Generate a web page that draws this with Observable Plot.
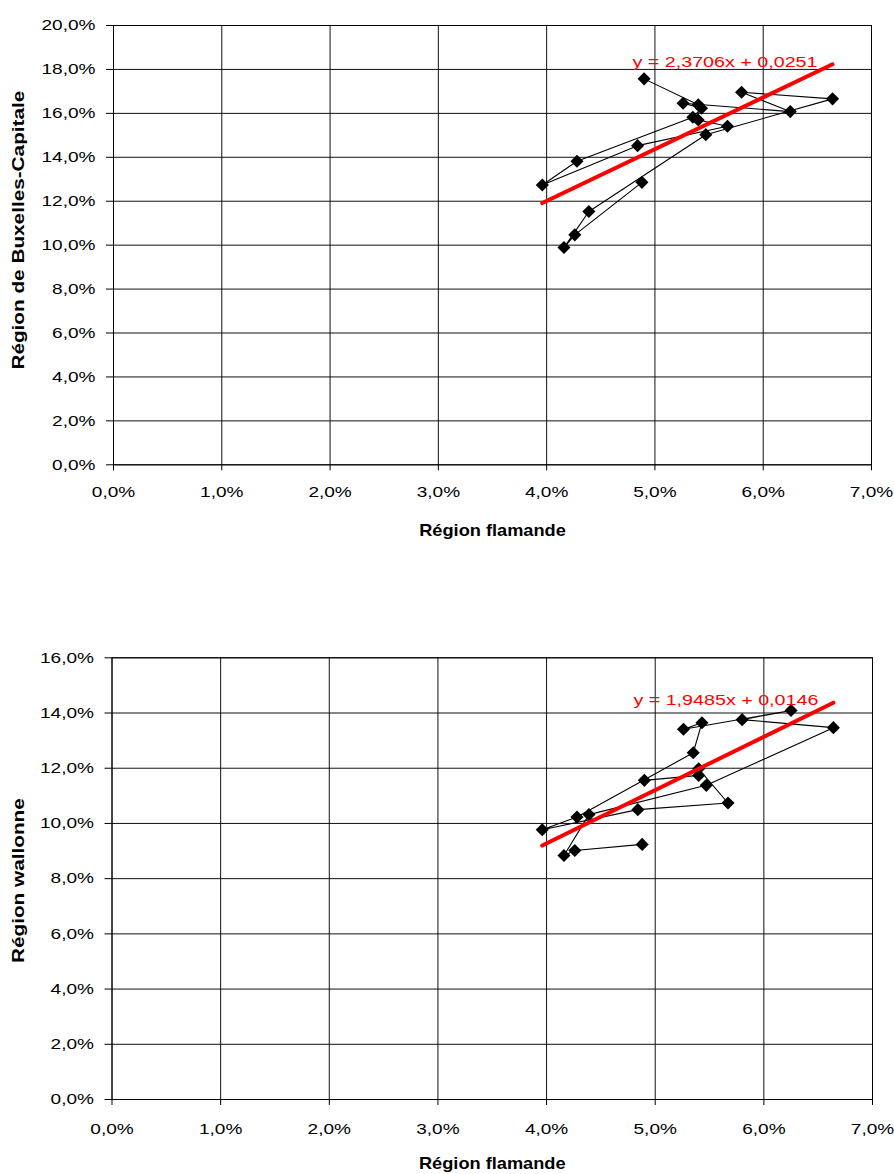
<!DOCTYPE html>
<html>
<head>
<meta charset="utf-8">
<script src="https://cdn.jsdelivr.net/npm/d3@7"></script>
<script src="https://cdn.jsdelivr.net/npm/@observablehq/plot@0.6"></script>
<style>
  html, body { margin: 0; padding: 0; background: #fff; }
  body { width: 894px; height: 1174px; overflow: hidden; }
  #charts svg { display: block; }
</style>
</head>
<body>
<div id="charts"></div>
<script>
// Observations in chronological (connection) order
const flandre   = [0.0488, 0.0426, 0.0416, 0.0439, 0.0547, 0.0664, 0.0580, 0.0625, 0.0526, 0.0543, 0.0535, 0.0428, 0.0396, 0.0484, 0.0567, 0.0540, 0.0540, 0.0490];
const bruxelles = [0.1286, 0.1047, 0.0989, 0.1153, 0.1503, 0.1666, 0.1696, 0.1608, 0.1646, 0.1623, 0.1582, 0.1382, 0.1274, 0.1453, 0.1541, 0.1570, 0.1639, 0.1757];
const wallonie  = [0.0924, 0.0902, 0.0884, 0.1032, 0.1138, 0.1347, 0.1376, 0.1409, 0.1341, 0.1365, 0.1256, 0.1023, 0.0977, 0.1050, 0.1074, 0.1198, 0.1174, 0.1156];

const xTicks = [0, 0.01, 0.02, 0.03, 0.04, 0.05, 0.06, 0.07];
const yTicksBrux = [0, 0.02, 0.04, 0.06, 0.08, 0.10, 0.12, 0.14, 0.16, 0.18, 0.20];
const yTicksWall = [0, 0.02, 0.04, 0.06, 0.08, 0.10, 0.12, 0.14, 0.16];

const titreX = "Région flamande";
const titreBrux = "Région de Buxelles-Capitale";
const titreWall = "Région wallonne";
const equationBrux = "y = 2,3706x + 0,0251";
const equationWall = "y = 1,9485x + 0,0146";
const coefBrux = [2.3706, 0.0251];
const coefWall = [1.9485, 0.0146];

const fmt = d => d3.format(".1%")(d).replace(".", ",");

function chart(o) {
  const data = flandre.map((x, i) => ({x, y: o.yVals[i]}));
  const xMax = d3.max(flandre);
  const eqPt = [{x: xMax, y: o.coef[0] * xMax + o.coef[1], label: o.eq}];
  return Plot.plot({
    width: 894,
    height: o.height,
    marginTop: o.marginTop,
    marginBottom: o.marginBottom,
    marginLeft: o.marginLeft,
    marginRight: o.marginRight,
    style: {fontFamily: "'Liberation Sans', Arial, sans-serif", fontSize: "15px", color: "#000", background: "#fff"},
    x: {domain: [0, 0.07]},
    y: {domain: [0, o.yTicks[o.yTicks.length - 1]]},
    marks: [
      Plot.gridX(xTicks, {stroke: "#111", strokeOpacity: 1}),
      Plot.gridY(o.yTicks, {stroke: "#111", strokeOpacity: 1}),
      Plot.frame({stroke: "#000"}),
      Plot.axisX(xTicks, {tickSize: 6, tickPadding: o.xPad, tickFormat: fmt, label: null, stroke: "#000", fontSize: 15}),
      Plot.axisY(o.yTicks, {tickSize: 7, tickPadding: 11, tickFormat: fmt, label: null, stroke: "#000", fontSize: 15}),
      Plot.line(data, {x: "x", y: "y", stroke: "#000", strokeWidth: 1.1}),
      Plot.dot(data, {x: "x", y: "y", symbol: "diamond2", r: 5.9, fill: "#000", stroke: "none"}),
      Plot.linearRegressionY(data, {x: "x", y: "y", stroke: "#ff0000", strokeWidth: 4, ci: 0}),
      Plot.text(eqPt, {x: "x", y: "y", text: "label", textAnchor: "end", lineAnchor: "middle", dx: -15, dy: o.eqDy, fill: "#ff0000", fontSize: 15.5}),
      Plot.text([titreX], {text: d => d, frameAnchor: "bottom", textAnchor: "middle", dy: o.xTitleDy, lineAnchor: "middle", fontWeight: "bold", fontSize: 17, fill: "#000"}),
      Plot.text([o.yTitle], {text: d => d, frameAnchor: "left", textAnchor: "middle", dx: o.yTitleDx, dy: o.yTitleDy, rotate: -90, lineAnchor: "middle", fontWeight: "bold", fontSize: 17, fill: "#000"})
    ]
  });
}

const container = document.getElementById("charts");
const chartBrux = chart({
  yVals: bruxelles, yTicks: yTicksBrux, yTitle: titreBrux, eq: equationBrux, coef: coefBrux,
  height: 600, marginTop: 25, marginBottom: 135.7, marginLeft: 113, marginRight: 23,
  xPad: 16, eqDy: -2, xTitleDy: 66, yTitleDx: -95, yTitleDy: -15
});
const chartWall = chart({
  yVals: wallonie, yTicks: yTicksWall, yTitle: titreWall, eq: equationWall, coef: coefWall,
  height: 574, marginTop: 57.3, marginBottom: 75, marginLeft: 111.5, marginRight: 22,
  xPad: 18, eqDy: -1.5, xTitleDy: 64, yTitleDx: -93.5, yTitleDy: 2
});
container.appendChild(chartBrux);
container.appendChild(chartWall);

// Widen glyphs like the original rendering
function stretch(svg) {
  svg.querySelectorAll("text").forEach(t => {
    const s = t.textContent;
    const g = t.closest("g[aria-label]");
    const role = g ? g.getAttribute("aria-label") : "";
    let f = 1;
    if (s === equationBrux || s === equationWall) f = 1.27;
    else if (s === titreX) f = 1.07;
    else if (s === titreBrux || s === titreWall) f = 1.22;
    else if (role.includes("tick label")) f = 1.27;
    if (f !== 1) {
      const len = t.getComputedTextLength();
      t.setAttribute("textLength", (len * f).toFixed(1));
      t.setAttribute("lengthAdjust", "spacingAndGlyphs");
    }
  });
}
stretch(chartBrux);
stretch(chartWall);
</script>
</body>
</html>
